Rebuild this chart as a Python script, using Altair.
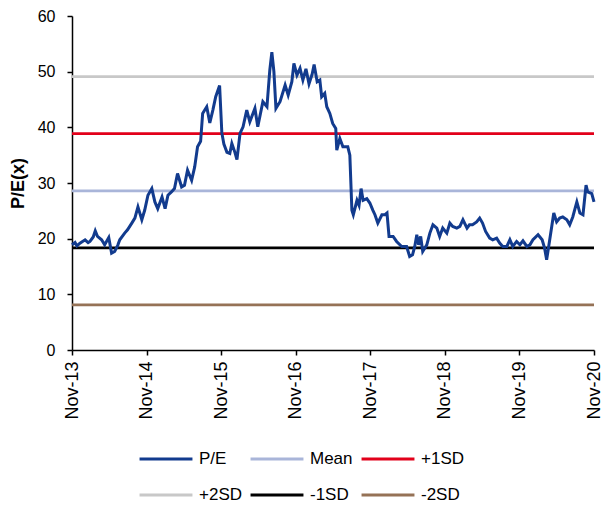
import altair as alt
import pandas as pd

# Trailing P/E series (observation dates and P/E multiples)
dates = [
    "2013-11-01", "2013-11-16", "2013-11-25", "2013-12-10", "2014-01-04", "2014-01-19",
    "2014-01-28", "2014-02-13", "2014-02-23", "2014-03-06", "2014-03-26", "2014-04-10",
    "2014-04-30", "2014-05-14", "2014-05-29", "2014-06-13", "2014-06-23", "2014-07-17",
    "2014-07-31", "2014-08-21", "2014-09-05", "2014-09-20", "2014-10-09", "2014-10-23",
    "2014-11-08", "2014-11-27", "2014-12-12", "2014-12-26", "2015-01-16", "2015-01-31",
    "2015-02-14", "2015-03-03", "2015-03-18", "2015-04-02", "2015-04-22", "2015-05-06",
    "2015-05-21", "2015-06-10", "2015-06-25", "2015-07-09", "2015-07-24", "2015-08-03",
    "2015-08-23", "2015-09-07", "2015-09-22", "2015-10-06", "2015-10-25", "2015-11-05",
    "2015-11-15", "2015-11-30", "2015-12-14", "2015-12-24", "2016-01-08", "2016-01-18",
    "2016-02-02", "2016-02-17", "2016-03-06", "2016-03-21", "2016-04-15", "2016-04-29",
    "2016-05-24", "2016-06-13", "2016-06-27", "2016-07-07", "2016-07-17", "2016-07-27",
    "2016-08-16", "2016-09-10", "2016-09-25", "2016-10-13", "2016-10-23", "2016-11-07",
    "2016-11-22", "2016-12-06", "2016-12-21", "2017-01-05", "2017-01-20", "2017-01-30",
    "2017-02-14", "2017-02-27", "2017-03-08", "2017-03-23", "2017-04-02", "2017-04-17",
    "2017-05-01", "2017-05-16", "2017-05-21", "2017-06-05", "2017-06-20", "2017-07-14",
    "2017-07-24", "2017-08-03", "2017-08-10", "2017-08-28", "2017-09-07", "2017-09-17",
    "2017-09-27", "2017-10-15", "2017-10-30", "2017-11-14", "2017-11-24", "2017-12-08",
    "2017-12-28", "2018-01-12", "2018-01-22", "2018-02-01", "2018-02-21", "2018-03-10",
    "2018-04-04", "2018-04-28", "2018-05-13", "2018-05-27", "2018-06-07", "2018-06-17",
    "2018-06-26", "2018-07-06", "2018-07-16", "2018-08-05", "2018-08-20", "2018-09-04",
    "2018-09-23", "2018-10-07", "2018-10-22", "2018-11-11", "2018-11-26", "2018-12-10",
    "2018-12-30", "2019-01-14", "2019-01-29", "2019-02-18", "2019-03-02", "2019-03-17",
    "2019-04-06", "2019-04-21", "2019-05-05", "2019-05-20", "2019-06-09", "2019-06-24",
    "2019-07-13", "2019-07-28", "2019-08-12", "2019-09-01", "2019-09-16", "2019-09-30",
    "2019-10-19", "2019-11-04", "2019-11-19", "2019-12-08", "2019-12-23", "2020-01-07",
    "2020-02-01", "2020-02-21", "2020-03-04", "2020-03-14", "2020-03-24", "2020-04-08",
    "2020-04-18", "2020-05-02", "2020-05-17", "2020-06-01", "2020-06-21", "2020-07-05",
    "2020-07-20", "2020-08-09", "2020-08-24", "2020-09-08", "2020-09-23", "2020-10-01",
    "2020-10-21", "2020-11-01",
]
pe = [
    18.9, 19.3, 18.7, 19.2, 19.8, 19.3,
    19.5, 20.3, 21.4, 20.4, 19.8, 18.9,
    20.2, 17.4, 17.7, 18.8, 19.8, 21.0,
    21.6, 22.8, 23.7, 25.7, 23.4, 25.1,
    27.8, 29.0, 26.6, 25.4, 27.5, 25.4,
    27.8, 28.4, 29.0, 31.7, 29.3, 29.6,
    32.3, 30.5, 32.9, 36.5, 37.5, 42.5,
    43.7, 40.8, 43.1, 45.5, 47.5, 39.0,
    37.0, 35.5, 35.3, 37.1, 35.5, 34.2,
    38.9, 40.1, 43.1, 41.0, 43.4, 40.1,
    44.6, 43.7, 50.3, 53.5, 50.0, 43.4,
    44.6, 47.6, 45.8, 48.2, 51.5, 49.4,
    50.6, 48.5, 50.5, 47.8, 49.5, 51.3,
    48.2, 48.5, 45.5, 46.1, 43.7, 42.5,
    40.7, 39.8, 35.9, 38.0, 36.5, 36.5,
    35.0, 25.1, 24.3, 26.9, 26.0, 29.0,
    26.9, 27.2, 26.4, 25.1, 24.3, 22.8,
    24.3, 24.3, 24.6, 20.4, 20.4, 19.5,
    18.6, 18.6, 16.8, 17.1, 18.6, 20.7,
    18.9, 20.4, 17.7, 18.9, 21.0, 22.5,
    21.9, 20.4, 21.9, 21.0, 22.8, 22.2,
    21.9, 22.2, 23.4, 21.9, 22.5, 22.5,
    23.0, 23.7, 22.8, 21.3, 20.1, 19.8,
    20.1, 19.2, 18.6, 18.6, 19.8, 18.6,
    19.5, 18.9, 19.6, 18.6, 18.9, 19.8,
    20.7, 19.8, 18.3, 16.2, 18.6, 22.2,
    24.6, 23.0, 23.7, 23.9, 23.4, 22.5,
    23.9, 26.6, 24.6, 24.3, 29.6, 28.4,
    28.1, 26.6,
]

# Mean and standard-deviation bands
band_names = ["Mean", "+1SD", "+2SD", "-1SD", "-2SD"]
band_values = [28.6, 38.85, 49.1, 18.35, 8.1]

series_order = ["P/E", "Mean", "+1SD", "+2SD", "-1SD", "-2SD"]
series_colors = ["#123b8e", "#a9b5d9", "#e2001a", "#c8c8c8", "#000000", "#957256"]

pe_df = pd.DataFrame({"date": dates, "value": pe, "series": "P/E"})
band_df = pd.DataFrame({"series": band_names, "value": band_values})

year_ticks = [alt.DateTime(year=y, month=11, date=1, utc=True) for y in range(2013, 2021)]

x_enc = alt.X(
    "date:T",
    scale=alt.Scale(
        type="utc",
        domain=[year_ticks[0], year_ticks[-1]],
    ),
    axis=alt.Axis(
        values=year_ticks,
        format="%b-%y",
        labelAngle=270,
        title=None,
        grid=False,
        tickSize=5,
        labelPadding=6,
        labelFontSize=18,
    ),
)

y_scale = alt.Scale(domain=[0, 60], nice=False)
y_axis = alt.Axis(
    values=[0, 10, 20, 30, 40, 50, 60],
    title="P/E(x)",
    grid=False,
    tickSize=5,
    labelPadding=12,
    labelFontSize=16,
    titleFontSize=18,
    titleFontWeight="bold",
    titlePadding=10,
)

color_enc = alt.Color(
    "series:N",
    scale=alt.Scale(domain=series_order, range=series_colors),
    sort=series_order,
    legend=alt.Legend(
        title=None,
        orient="none",
        legendX=66,
        legendY=415,
        direction="horizontal",
        columns=3,
        symbolType="stroke",
        symbolSize=2800,
        symbolStrokeWidth=3,
        labelFontSize=17,
        labelOffset=5,
        columnPadding=2,
        rowPadding=-17,
        padding=0,
    ),
)

bands = alt.Chart(band_df).mark_rule(strokeWidth=2.75).encode(
    y=alt.Y("value:Q", scale=y_scale, axis=y_axis),
    color=color_enc,
)

line = alt.Chart(pe_df).mark_line(strokeWidth=3).encode(
    x=x_enc,
    y=alt.Y("value:Q", scale=y_scale, axis=y_axis),
    color=color_enc,
)

chart = (
    alt.layer(bands, line)
    .properties(
        width=522,
        height=334,
        autosize=alt.AutoSizeParams(type="none"),
        padding={"left": 72, "top": 16, "right": 8, "bottom": 156},
    )
    .configure(font="Liberation Sans")
    .configure_view(stroke=None)
    .configure_axis(
        domainColor="#000000",
        tickColor="#000000",
        labelColor="#000000",
        titleColor="#000000",
        domainWidth=1.5,
        tickWidth=1.5,
    )
    .configure_legend(labelColor="#000000")
)

chart.save("out.html", embed_options={"renderer": "svg", "actions": False})
